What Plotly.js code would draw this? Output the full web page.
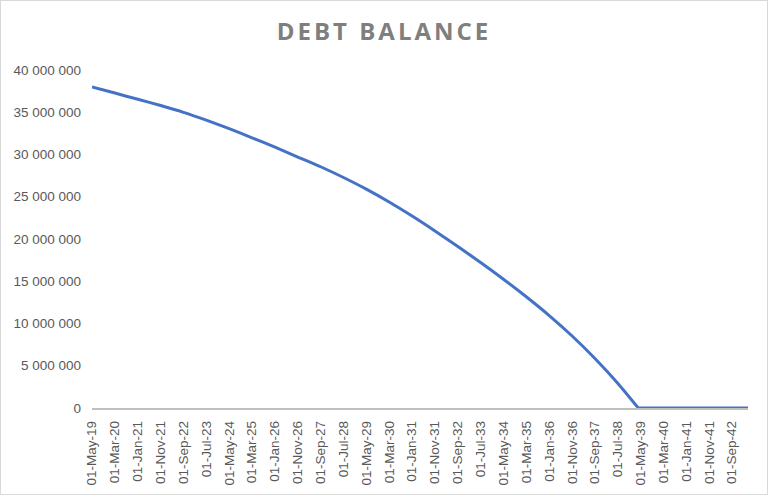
<!DOCTYPE html>
<html>
<head>
<meta charset="utf-8">
<script src="https://cdn.plot.ly/plotly-3.0.1.min.js"></script>
<style>
  html, body { margin: 0; padding: 0; background: #fff; }
  #chart-debt {
    width: 768px; height: 495px; box-sizing: border-box;
    border: 1px solid #d9d9d9;
  }
  #chart-debt .gtitle { letter-spacing: 3px; }
</style>
</head>
<body>
<div id="chart-debt"></div>
<script>
// Balance, one point every 10 months (the tick dates),
// plus the month it reaches zero and the end of the schedule
const balanceDates = [
    '2019-05-01', '2020-03-01', '2021-01-01', '2021-11-01', '2022-09-01',
    '2023-07-01', '2024-05-01', '2025-03-01', '2026-01-01', '2026-11-01',
    '2027-09-01', '2028-07-01', '2029-05-01', '2030-03-01', '2031-01-01',
    '2031-11-01', '2032-09-01', '2033-07-01', '2034-05-01', '2035-03-01',
    '2036-01-01', '2036-11-01', '2037-09-01', '2038-07-01', '2039-04-01',
    '2040-03-01', '2041-01-01', '2041-11-01', '2042-09-01', '2043-04-01'
];
const balanceValues = [
    38000000, 37270000, 36530000, 35790000, 34980000,
    34060000, 33060000, 31980000, 30860000, 29700000,
    28550000, 27280000, 25900000, 24380000, 22720000,
    20960000, 19120000, 17220000, 15240000, 13160000,
    10940000, 8520000, 5860000, 2940000, 0,
    0, 0, 0, 0, 0
];

const chartTitle = 'DEBT BALANCE';
const firstDate = '2019-05-01';
const lastDate = '2043-04-01';

// the repayment part is drawn smooth, the paid-off tail straight
const paidOff = balanceValues.indexOf(0);
const lineStyle = { color: '#4472C4', width: 3 };

const repayTrace = {
    x: balanceDates.slice(0, paidOff + 1),
    y: balanceValues.slice(0, paidOff + 1),
    type: 'scatter',
    mode: 'lines',
    line: Object.assign({ shape: 'spline', smoothing: 0.6 }, lineStyle)
};
const tailTrace = {
    x: balanceDates.slice(paidOff),
    y: balanceValues.slice(paidOff),
    type: 'scatter',
    mode: 'lines',
    line: lineStyle
};

const tickFont = { family: 'Liberation Sans, Arial, sans-serif', size: 13.5, color: '#595959' };

const layout = {
    width: 766,
    height: 493,
    margin: { l: 91, r: 19, t: 69, b: 86 },
    paper_bgcolor: 'white',
    plot_bgcolor: 'white',
    separators: '. ',
    showlegend: false,
    title: {
        text: chartTitle,
        x: 0.5,
        xanchor: 'center',
        y: 0.938,
        yanchor: 'middle',
        yref: 'container',
        font: { family: 'Open Sans, sans-serif', size: 24, color: '#7f7f7f', weight: 'bold' }
    },
    xaxis: {
        type: 'date',
        range: [firstDate, lastDate],
        tick0: firstDate,
        dtick: 'M10',
        tickformat: '%d-%b-%y',
        tickangle: -90,
        tickfont: tickFont,
        ticks: '',
        ticklabelstandoff: 6,
        showgrid: false,
        zeroline: false,
        showline: true,
        linecolor: '#bfbfbf',
        linewidth: 1.5
    },
    yaxis: {
        range: [0, 40000000],
        dtick: 5000000,
        tickformat: ',d',
        tickfont: tickFont,
        ticks: '',
        ticklabelstandoff: 10,
        showgrid: false,
        zeroline: false,
        showline: false
    }
};

Plotly.newPlot('chart-debt', [repayTrace, tailTrace], layout, { displayModeBar: false, staticPlot: true });
</script>
</body>
</html>
